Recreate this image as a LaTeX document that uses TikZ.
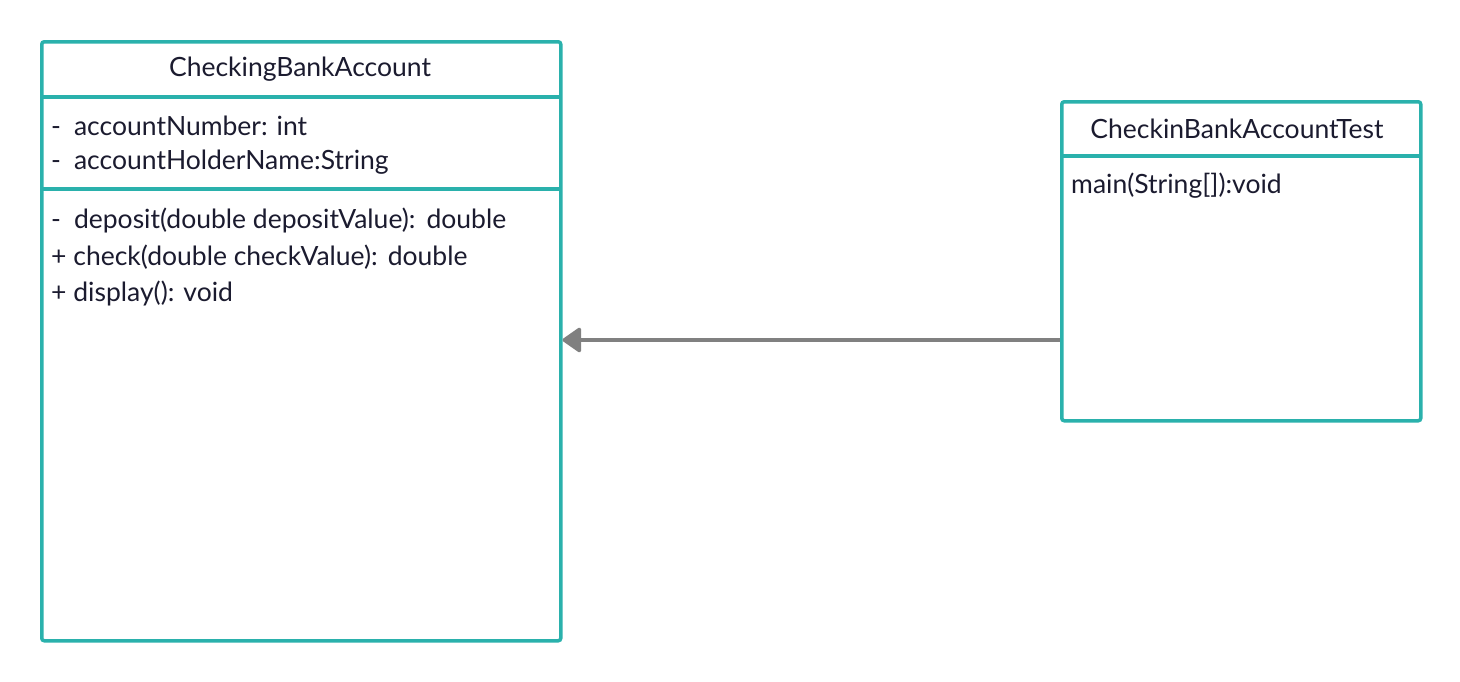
\documentclass[tikz,border=0pt]{standalone}
\usepackage{fontspec}
\setmainfont{Lato}
\usetikzlibrary{arrows.meta}
\definecolor{teal1}{HTML}{2AB1AC}
\definecolor{txt}{HTML}{1B1B2F}
\definecolor{arr}{HTML}{808080}
\tikzset{
  classbox/.style={draw=teal1, line width=3.5pt, rounded corners=2.5pt, fill=white},
  divider/.style={draw=teal1, line width=3.5pt},
  lbl/.style={text=txt, font=\fontsize{26.5}{30}\selectfont, inner sep=0pt},
  assoc/.style={draw=arr, line width=3.5pt, -{Triangle[length=20pt,width=27pt,round]}}
}
\begin{document}
\begin{tikzpicture}[x=1pt,y=-1pt]
\useasboundingbox (0,0) rectangle (1460,681);
% left class
\node[classbox, minimum width=519pt, minimum height=599pt, anchor=north west] (cba) at (40,40) {};
\draw[divider] (40,97) -- (559,97);
\draw[divider] (40,189) -- (559,189);
\node[lbl] (cbat) at (300,69) {CheckingBankAccount};
\node[lbl, anchor=west] (a1) at (51,126) {-\hspace{13pt}accountNumber: int};
\node[lbl, anchor=west] (a2) at (51,162) {-\hspace{13pt}accountHolderName:String};
\node[lbl, anchor=west] (m1) at (51,220) {-\hspace{13pt}deposit(double depositValue):\hspace{11pt}double};
\node[lbl, anchor=west] (m2) at (51,257) {+ check(double checkValue):\hspace{10pt}double};
\node[lbl, anchor=west] (m3) at (51,293) {+ display(): void};
% right class
\node[classbox, minimum width=359pt, minimum height=319pt, anchor=north west] (cbt) at (1060,100) {};
\draw[divider] (1060,156) -- (1419,156);
\node[lbl] (cbtt) at (1237,129) {CheckinBankAccountTest};
\node[lbl, anchor=west] (t1) at (1071,186) {main(String[]):void};
% connector
\coordinate (s) at (cbt.west |- 0,340);
\coordinate (e) at (cba.east |- 0,340);
\draw[assoc] (s) -- (e);
\end{tikzpicture}
\end{document}
